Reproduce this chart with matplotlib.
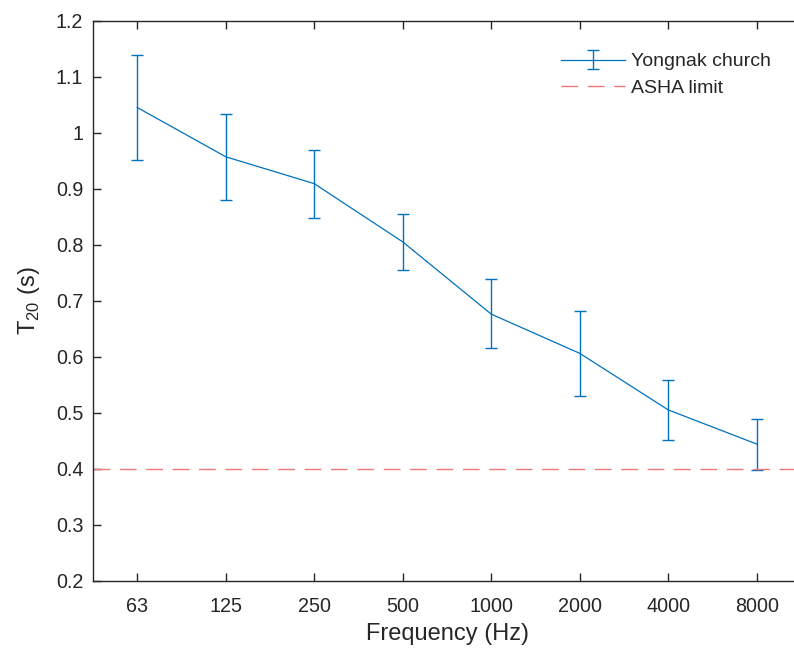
import matplotlib
matplotlib.use("Agg")
import matplotlib.pyplot as plt
import numpy as np

plt.rcParams['font.family'] = ['Liberation Sans', 'DejaVu Sans']
plt.rcParams['mathtext.fontset'] = 'custom'
plt.rcParams['mathtext.rm'] = 'Liberation Sans'

freq_labels = ['63', '125', '250', '500', '1000', '2000', '4000', '8000']
t20 = [1.045, 0.957, 0.909, 0.805, 0.676, 0.606, 0.505, 0.444]
t20_upper = [1.139, 1.034, 0.970, 0.854, 0.738, 0.682, 0.558, 0.489]
t20_lower = [0.952, 0.880, 0.848, 0.755, 0.615, 0.529, 0.451, 0.398]
asha_limit = 0.4

x = np.arange(1, len(freq_labels) + 1)
t20 = np.array(t20)
yerr = [t20 - np.array(t20_lower), np.array(t20_upper) - t20]

dark = '#262626'
blue = '#0072BD'

fig = plt.figure(figsize=(7.94, 6.48), dpi=100)
ax = fig.add_axes([93 / 794, (648 - 580.7) / 648, 708 / 794, 560 / 648])

eb = ax.errorbar(x, t20, yerr=yerr, color=blue, lw=0.9, elinewidth=1.0,
                 capsize=4.6, capthick=1.0, label='Yongnak church')
lim = ax.axhline(asha_limit, color='#F07878', lw=1.0, dashes=(12, 7),
                 label='ASHA limit')

ax.set_xlim(0.5, 8.5)
ax.set_ylim(0.2, 1.2)
ax.set_xticks(x)
ax.set_xticklabels(freq_labels)
ax.set_yticks(np.arange(0.2, 1.21, 0.1))
ax.set_yticklabels(['0.2', '0.3', '0.4', '0.5', '0.6', '0.7', '0.8', '0.9',
                    '1', '1.1', '1.2'])

ax.tick_params(direction='in', length=5.5, width=1.0, color=dark,
               labelcolor=dark, labelsize=14.2, top=True, right=False)
ax.tick_params(axis='x', pad=12)
ax.tick_params(axis='y', pad=7)
for s in ax.spines.values():
    s.set_color(dark)
    s.set_linewidth(1.0)

ax.set_xlabel('Frequency (Hz)', fontsize=17, color=dark, labelpad=5)
ax.set_ylabel(r'T$_{\mathregular{20}}$ (s)', fontsize=17, color=dark, labelpad=10)

fig.legend([eb, lim], ['Yongnak church', 'ASHA limit'],
           loc='upper left', bbox_to_anchor=(553 / 794, 1 - 45 / 648),
           frameon=False, fontsize=14, handlelength=3.3, handletextpad=0.3,
           labelspacing=0.45, borderaxespad=0, labelcolor=dark)

fig.savefig('out.png', dpi=100)
